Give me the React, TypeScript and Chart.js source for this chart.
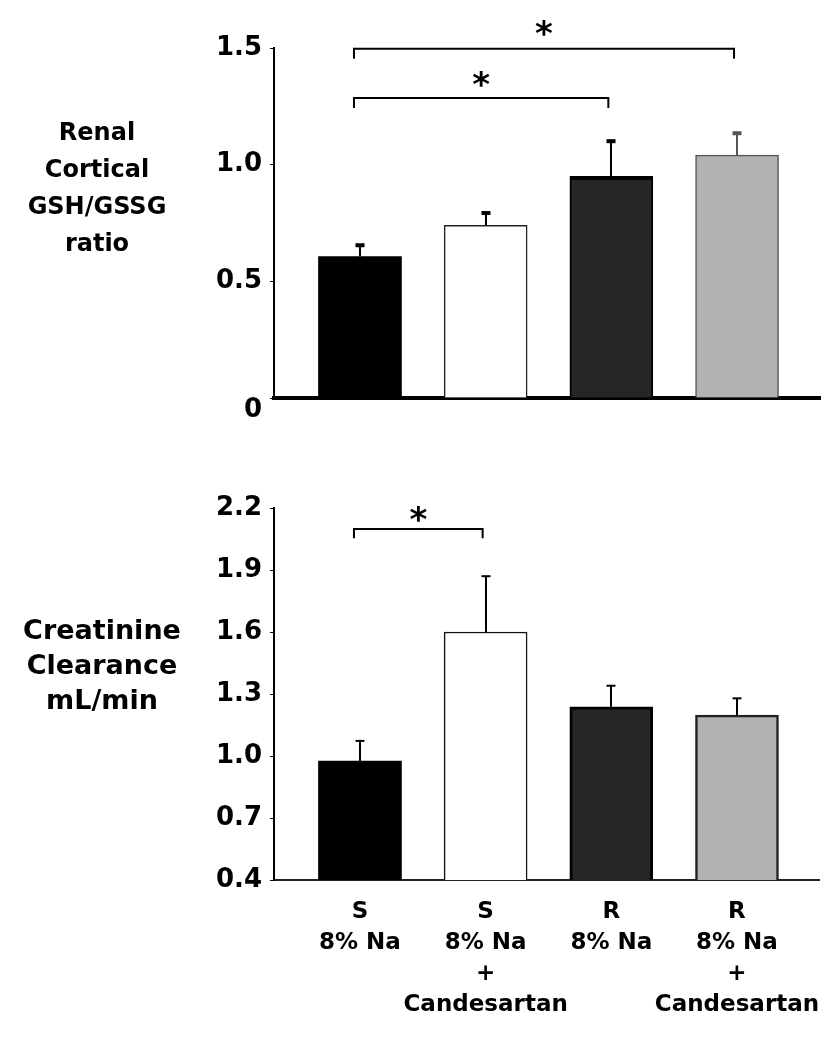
import React, { useEffect, useRef } from "react";
import { Chart, registerables } from "chart.js";

Chart.register(...registerables);

// ---- data ----
const categories: string[][] = [
  ["S", "8% Na"],
  ["S", "8% Na", "+", "Candesartan"],
  ["R", "8% Na"],
  ["R", "8% Na", "+", "Candesartan"],
];

const gshMean = [0.606, 0.74, 0.95, 1.041];
const gshUpper = [0.659, 0.797, 1.105, 1.139];
const gshTicks = [0, 0.5, 1.0, 1.5];
const gshBrackets = [
  { from: 0, to: 3, level: 1.497, drop: 1.454, star: 1.592 },
  { from: 0, to: 2, level: 1.286, drop: 1.243, star: 1.376 },
];

const crclMean = [0.976, 1.6, 1.238, 1.198];
const crclUpper = [1.073, 1.87, 1.34, 1.279];
const crclTicks = [0.4, 0.7, 1.0, 1.3, 1.6, 1.9, 2.2];
const crclBrackets = [{ from: 0, to: 1, level: 2.098, drop: 2.054, star: 2.18 }];

// ---- styles ----
const FONT = "'DejaVu Sans', Verdana, sans-serif";
const barFill = ["#000000", "#ffffff", "#262626", "#b2b2b2"];

type PanelProps = {
  mean: number[];
  upper: number[];
  ticks: number[];
  brackets: { from: number; to: number; level: number; drop: number; star: number }[];
  showLabels: boolean;
  top: number;
  height: number;
  areaTop: number;
  areaBottom: number;
  xBorderWidth: number;
  xBorderColor: string;
  capWidth: number;
  barBorderColor: string[];
  barBorderWidth: any[];
  errColor: string[];
  zeroLabelLow: boolean;
};

function Panel(p: PanelProps) {
  const ref = useRef<HTMLCanvasElement | null>(null);
  useEffect(() => {
    if (!ref.current) return;
    const annot = {
      id: "annot",
      afterDatasetsDraw(chart: any) {
        const { ctx, scales } = chart;
        const x = scales.x;
        const y = scales.y;
        ctx.save();
        ctx.lineCap = "butt";
        p.upper.forEach((u, i) => {
          const px = Math.round(x.getPixelForValue(i));
          const y0 = y.getPixelForValue(p.mean[i]);
          const y1 = y.getPixelForValue(u);
          ctx.strokeStyle = p.errColor[i];
          ctx.lineWidth = 2;
          ctx.beginPath();
          ctx.moveTo(px, y0);
          ctx.lineTo(px, y1);
          ctx.stroke();
          ctx.lineWidth = p.capWidth;
          ctx.beginPath();
          ctx.moveTo(px - 4.5, y1 + p.capWidth / 2 - 1);
          ctx.lineTo(px + 4.5, y1 + p.capWidth / 2 - 1);
          ctx.stroke();
        });
        ctx.strokeStyle = "#000";
        ctx.fillStyle = "#000";
        ctx.lineWidth = 2;
        p.brackets.forEach((b) => {
          const xl = x.getPixelForValue(b.from) - 6;
          const xr = x.getPixelForValue(b.to) - 3;
          const yl = y.getPixelForValue(b.level);
          const yd = y.getPixelForValue(b.drop);
          ctx.beginPath();
          ctx.moveTo(xl, yd);
          ctx.lineTo(xl, yl);
          ctx.lineTo(xr, yl);
          ctx.lineTo(xr, yd);
          ctx.stroke();
          const size = 34;
          ctx.font = `bold ${size}px ${FONT}`;
          ctx.textAlign = "center";
          ctx.textBaseline = "alphabetic";
          const ys = y.getPixelForValue(b.star);
          ctx.fillText("*", (xl + xr) / 2, ys + 0.55 * size);
        });
        ctx.restore();
      },
    };

    const chart = new Chart(ref.current, {
      type: "bar",
      data: {
        datasets: [
          {
            data: p.mean.map((v, i) => ({ x: i, y: v })),
            backgroundColor: barFill,
            borderColor: p.barBorderColor,
            borderWidth: p.barBorderWidth,
            borderSkipped: "start",
            barThickness: 83,
          } as any,
        ],
      },
      options: {
        responsive: false,
        animation: false,
        events: [],
        layout: { padding: { left: 0, right: 19, top: p.areaTop, bottom: 0 } },
        plugins: { legend: { display: false }, tooltip: { enabled: false } },
        scales: {
          x: {
            type: "linear",
            min: -0.684,
            max: 3.66,
            offset: false,
            afterBuildTicks: (s: any) => {
              s.ticks = categories.map((_, i) => ({ value: i }));
            },
            afterFit: (s: any) => {
              s.height = p.height - p.areaBottom;
            },
            ticks: {
              display: p.showLabels,
              autoSkip: false,
              maxRotation: 0,
              minRotation: 0,
              padding: 17,
              color: "#000",
              font: { family: FONT, size: 23, weight: "bold", lineHeight: "31px" } as any,
              callback: (v: any) => categories[v] ?? "",
            },
            grid: { display: false, drawTicks: false },
            border: { display: true, color: p.xBorderColor, width: p.xBorderWidth },
          } as any,
          y: {
            type: "linear",
            min: p.ticks[0],
            max: p.ticks[p.ticks.length - 1],
            afterBuildTicks: (s: any) => {
              s.ticks = p.ticks.map((v) => ({ value: v }));
            },
            afterFit: (s: any) => {
              s.width = 274;
            },
            ticks: {
              padding: 8,
              color: "#000",
              font: { family: FONT, size: 26, weight: "bold", lineHeight: "24px" } as any,
              callback: (v: any) =>
                v === 0 ? (p.zeroLabelLow ? ["", "0"] : "0") : Number(v).toFixed(1),
            },
            grid: {
              display: true,
              drawOnChartArea: false,
              drawTicks: true,
              tickLength: 4,
              color: "#000",
              lineWidth: 1,
            },
            border: { display: true, color: "#000", width: 2 },
          } as any,
        },
      },
      plugins: [annot],
    } as any);
    return () => chart.destroy();
  }, []);
  return (
    <canvas
      ref={ref}
      width={839}
      height={p.height}
      style={{ position: "absolute", left: 0, top: p.top, width: 839, height: p.height, display: "block" }}
    />
  );
}

const titleStyle: React.CSSProperties = {
  position: "absolute",
  left: 0,
  textAlign: "center",
  fontFamily: FONT,
  fontWeight: "bold",
  color: "#000",
  whiteSpace: "nowrap",
};

export default function App() {
  return (
    <div style={{ position: "absolute", left: 0, top: 0, width: 839, height: 1050, background: "#fff", overflow: "hidden" }}>
      <Panel
        mean={gshMean}
        upper={gshUpper}
        ticks={gshTicks}
        brackets={gshBrackets}
        showLabels={false}
        top={0}
        height={450}
        areaTop={48}
        areaBottom={398}
        xBorderWidth={4}
        xBorderColor="#000"
        capWidth={4}
        barBorderColor={["#000", "#222", "#000", "#555"]}
        barBorderWidth={[0, 1.5, { top: 4, left: 2, right: 2 }, 1.5]}
        errColor={["#000", "#000", "#000", "#555"]}
        zeroLabelLow={true}
      />
      <Panel
        mean={crclMean}
        upper={crclUpper}
        ticks={crclTicks}
        brackets={crclBrackets}
        showLabels={true}
        top={450}
        height={600}
        areaTop={58}
        areaBottom={430}
        xBorderWidth={2}
        xBorderColor="#222"
        capWidth={2}
        barBorderColor={["#000", "#111", "#000", "#222"]}
        barBorderWidth={[0, 1.5, 3, 2.5]}
        errColor={["#000", "#000", "#000", "#000"]}
        zeroLabelLow={false}
      />
      <div style={{ ...titleStyle, top: 114, width: 194, fontSize: 24, lineHeight: "37px" }}>
        Renal<br />Cortical<br />GSH/GSSG<br />ratio
      </div>
      <div style={{ ...titleStyle, top: 612, width: 204, fontSize: 27, lineHeight: "35px" }}>
        Creatinine<br />Clearance<br />mL/min
      </div>
    </div>
  );
}
